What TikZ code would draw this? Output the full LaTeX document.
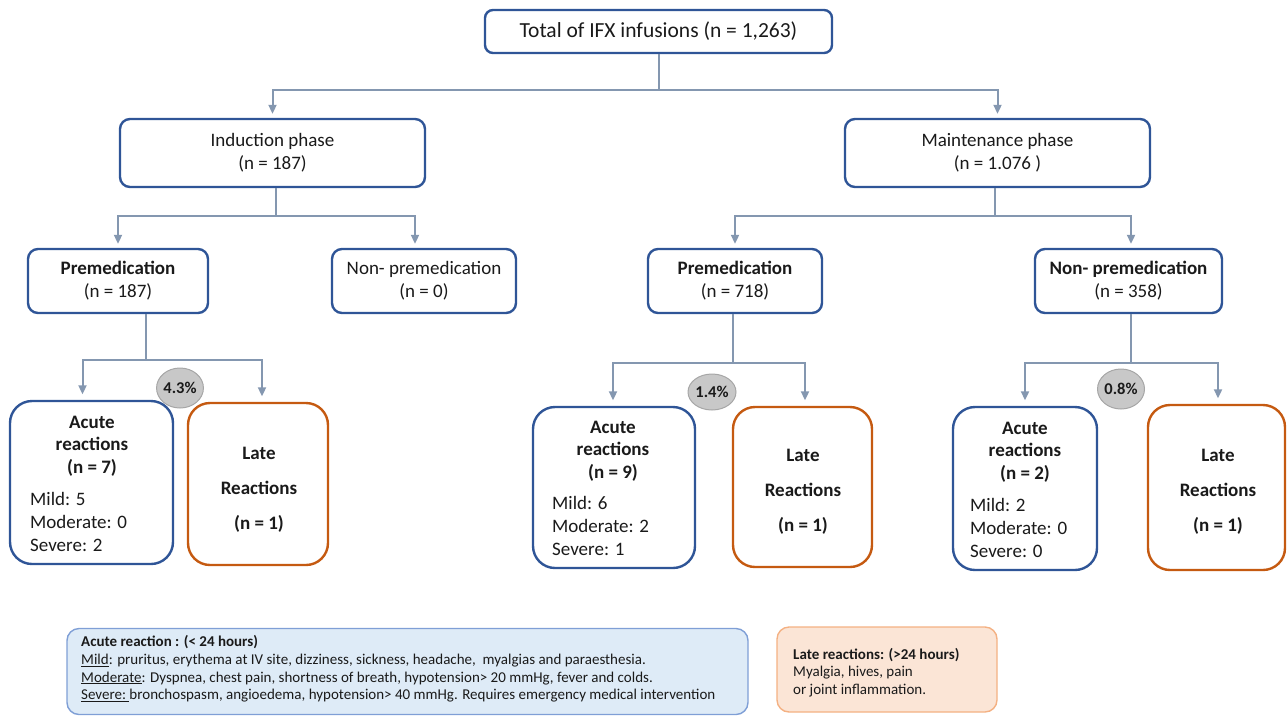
\documentclass[tikz,border=0pt]{standalone}
\usepackage{fontspec}
\setmainfont{Carlito}
\usetikzlibrary{arrows.meta,shapes.geometric}
\definecolor{boxblue}{HTML}{2F5597}
\definecolor{arrowc}{HTML}{8497B0}
\definecolor{lateor}{HTML}{C55A11}
\definecolor{legbfill}{HTML}{DEEBF7}
\definecolor{legbdraw}{HTML}{7F9FD6}
\definecolor{legofill}{HTML}{FBE5D6}
\definecolor{legodraw}{HTML}{F4B183}
\definecolor{pctfill}{HTML}{C8C8C8}
\definecolor{pctdraw}{HTML}{A6A6A6}
\definecolor{txt}{HTML}{1A1A1A}
\begin{document}
\begin{tikzpicture}[x=1pt,y=-1pt,
  box/.style={draw=boxblue,line width=2.4pt,rounded corners=10pt,fill=white,inner sep=0pt,align=center,text=txt,font=\fontsize{19}{23}\selectfont},
  acutebox/.style={draw=boxblue,line width=2.4pt,rounded corners=22pt,fill=white,inner sep=0pt},
  latebox/.style={draw=lateor,line width=2.4pt,rounded corners=22pt,fill=white,inner sep=0pt,align=center,text=txt,font=\fontsize{19}{35}\selectfont\bfseries},
  headtxt/.style={align=center,text=txt,inner sep=0pt,font=\fontsize{19}{22.5}\selectfont\bfseries},
  gradetxt/.style={align=left,text=txt,inner sep=0pt,anchor=west,font=\fontsize{19}{23}\selectfont},
  pct/.style={ellipse,draw=pctdraw,fill=pctfill,line width=1pt,inner sep=0pt,text=txt,font=\fontsize{16.5}{18}\selectfont\bfseries},
  conn/.style={draw=arrowc,line width=2pt},
  arr/.style={conn,-{Triangle[length=9pt,width=8pt]},shorten >=4pt},
  arrl/.style={arr,shorten >=5.5pt},
  legtxt/.style={align=left,anchor=north west,inner sep=0pt,text=txt,font=\fontsize{15}{17.6}\selectfont}
]
\useasboundingbox (0,0) rectangle (1287,716);

% level 0 and 1
\node[box,rounded corners=8pt,minimum width=347pt,minimum height=43pt,font=\fontsize{21.5}{26}\selectfont] (top) at (658.5,31.5) {Total of IFX infusions (n = 1,263)};
\node[box,minimum width=305pt,minimum height=68pt] (ind) at (272.5,153) {Induction phase\\(n = 187)};
\node[box,minimum width=305pt,minimum height=68pt] (maint) at (997.5,153) {Maintenance phase\\(n = 1.076 )};

% level 2
\node[box,minimum width=180pt,minimum height=64pt] (premedL) at (118,281) {\textbf{Premedication}\\(n = 187)};
\node[box,minimum width=184pt,minimum height=64pt] (nonL) at (424,281) {Non- premedication\\(n = 0)};
\node[box,minimum width=174pt,minimum height=64pt] (premedM) at (735,281) {\textbf{Premedication}\\(n = 718)};
\node[box,minimum width=187pt,minimum height=64pt] (nonR) at (1128.5,281) {\textbf{Non- premedication}\\(n = 358)};

% level 3 boxes
\node[acutebox,minimum width=163pt,minimum height=163pt] (acuteL) at (91.5,482.5) {};
\node[latebox,minimum width=140pt,minimum height=162pt] (lateL) at (258,484) {};
\node[acutebox,minimum width=162pt,minimum height=161pt] (acuteM) at (614,487.5) {};
\node[latebox,minimum width=139pt,minimum height=160pt] (lateM) at (802.5,487) {};
\node[acutebox,minimum width=144pt,minimum height=163pt] (acuteR) at (1025,488.5) {};
\node[latebox,minimum width=137pt,minimum height=165pt] (lateR) at (1216.5,487.5) {};

% texts in level 3 boxes
\node[headtxt] (hL) at (92,446) {Acute\\reactions\\(n = 7)};
\node[gradetxt] (gL) at (30,522) {Mild: 5\\Moderate: 0\\Severe: 2};
\node[latebox,draw=none,fill=none] (tL) at (259,490) {Late\\Reactions\\(n = 1)};
\node[headtxt] (hM) at (613,451) {Acute\\reactions\\(n = 9)};
\node[gradetxt] (gM) at (552,526) {Mild: 6\\Moderate: 2\\Severe: 1};
\node[latebox,draw=none,fill=none] (tM) at (803,492) {Late\\Reactions\\(n = 1)};
\node[headtxt] (hR) at (1025,452) {Acute\\reactions\\(n = 2)};
\node[gradetxt] (gR) at (970,528) {Mild: 2\\Moderate: 0\\Severe: 0};
\node[latebox,draw=none,fill=none] (tR) at (1218,492) {Late\\Reactions\\(n = 1)};

% connectors
\coordinate (j0) at (658.5,90);
\draw[conn] (top.south) -- (j0);
\draw[arr] (j0) -| (ind.north);
\draw[arr] (j0) -| (maint.north);

\coordinate (j1) at (276,216);
\draw[conn] (ind.south -| j1) -- (j1);
\draw[arr] (j1) -| (premedL.north);
\draw[arr] (j1) -| ([xshift=-9pt]nonL.north);

\coordinate (j2) at (995,216);
\draw[conn] (maint.south -| j2) -- (j2);
\draw[arr] (j2) -| (premedM.north);
\draw[arr] (j2) -| ([xshift=2.5pt]nonR.north);

\coordinate (j3) at (146,360);
\draw[conn] (premedL.south -| j3) -- (j3);
\draw[arrl] (j3) -| ([xshift=-9pt]acuteL.north);
\draw[arrl] (j3) -| ([xshift=4pt]lateL.north);

\coordinate (j4) at (733,363);
\draw[conn] (premedM.south -| j4) -- (j4);
\draw[arrl] (j4) -| ([xshift=-1pt]acuteM.north);
\draw[arrl] (j4) -| ([xshift=2.5pt]lateM.north);

\coordinate (j5) at (1131,363);
\draw[conn] (nonR.south -| j5) -- (j5);
\draw[arrl] (j5) -| (acuteR.north);
\draw[arrl] (j5) -| ([xshift=1.5pt]lateR.north);

% percentages
\node[pct,minimum width=45pt,minimum height=40pt] (p1) at (180,388) {4.3\%};
\node[pct,minimum width=48pt,minimum height=36pt] (p2) at (712,392) {1.4\%};
\node[pct,minimum width=47pt,minimum height=40pt] (p3) at (1121,389) {0.8\%};

% legends
\node[draw=legbdraw,fill=legbfill,line width=1.4pt,rounded corners=12pt,minimum width=681pt,minimum height=86pt,inner sep=0pt] (legA) at (407.5,671.5) {};
\node[legtxt] (legAt) at (81,635.5) {\textbf{Acute reaction : (< 24 hours)}\\
\underline{Mild}: pruritus, erythema at IV site, dizziness, sickness, headache,~ myalgias and paraesthesia.\\
\underline{Moderate}: Dyspnea, chest pain, shortness of breath, hypotension> 20 mmHg, fever and colds.\\
\underline{Severe:\ }bronchospasm, angioedema, hypotension> 40 mmHg. Requires emergency medical intervention};
\node[draw=legodraw,fill=legofill,line width=1.4pt,rounded corners=12pt,minimum width=220pt,minimum height=85pt,inner sep=0pt] (legL) at (887,669.5) {};
\node[legtxt] (legLt) at (793,648) {\textbf{Late reactions: (>24 hours)}\\Myalgia, hives, pain\\or joint inflammation.};
\end{tikzpicture}
\end{document}
